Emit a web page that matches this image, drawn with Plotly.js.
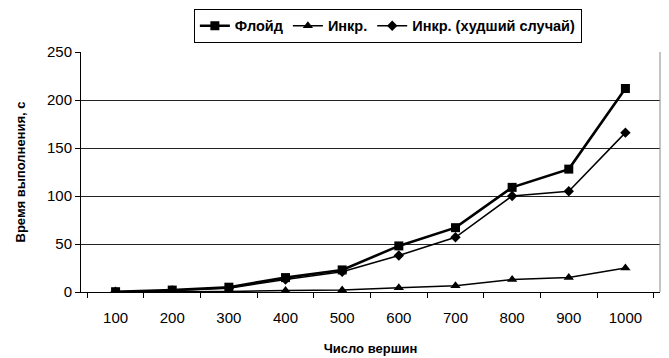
<!DOCTYPE html>
<html>
<head>
<meta charset="utf-8">
<script src="https://cdn.plot.ly/plotly-3.0.1.min.js"></script>
<style>html,body{margin:0;padding:0;background:#fff;}#chart{width:669px;height:358px;}</style>
</head>
<body>
<div id="chart"></div>
<script>
// Число вершин графа
const vertices = ['100', '200', '300', '400', '500', '600', '700', '800', '900', '1000'];
// Время выполнения, с
const floyd = [0.3, 2, 5, 15, 23, 48, 67, 109, 128, 212];
const incr = [0.1, 0.2, 0.5, 1.5, 2, 4.4, 6.5, 13, 15, 25];
const incrWorst = [0.3, 1.5, 4, 13, 21, 38, 57, 100, 105, 166];
const yTicks = [0, 50, 100, 150, 200, 250];

const font = 'Liberation Sans, Arial, sans-serif';

const traces = [
  {x: vertices, y: floyd, name: 'Флойд', mode: 'lines+markers',
   line: {color: '#000', width: 2.6}, marker: {symbol: 'square', size: 9, color: '#000'}},
  {x: vertices, y: incr, name: 'Инкр.', mode: 'lines+markers',
   line: {color: '#000', width: 1.5}, marker: {symbol: 'triangle-up', size: 9, color: '#000'}},
  {x: vertices, y: incrWorst, name: 'Инкр. (худший случай)', mode: 'lines+markers',
   line: {color: '#000', width: 1.5}, marker: {symbol: 'diamond', size: 8, color: '#000'}}
];

const layout = {
  width: 669, height: 358,
  margin: {l: 81, r: 9, t: 47, b: 66},
  paper_bgcolor: '#fff', plot_bgcolor: '#fff',
  font: {family: font, size: 15, color: '#000'},
  showlegend: true,
  legend: {orientation: 'h', x: 0.53, xanchor: 'center', y: 1.18, yanchor: 'top',
    bordercolor: '#000', borderwidth: 1, bgcolor: '#fff',
    font: {family: font, size: 14.5, color: '#000', weight: 'bold'},
    itemwidth: 30, tracegroupgap: 0},
  xaxis: {
    type: 'category', tickson: 'boundaries', ticks: 'outside', ticklen: 5,
    tickcolor: '#000', showline: true, linecolor: '#000', linewidth: 1,
    showgrid: false, zeroline: false, fixedrange: true, ticklabelstandoff: 12,
    tickfont: {family: font, size: 15, color: '#000'},
    title: {text: 'Число вершин', font: {family: font, size: 13, weight: 'bold', color: '#000'}, standoff: 18}
  },
  yaxis: {
    range: [0, 250], tickvals: yTicks, ticks: 'outside', ticklen: 5, tickcolor: '#000',
    showline: true, linecolor: '#000', linewidth: 1,
    showgrid: true, gridcolor: '#222', gridwidth: 1, zeroline: false, fixedrange: true,
    tickfont: {family: font, size: 15, color: '#000'},
    title: {text: 'Время выполнения, с', font: {family: font, size: 13, weight: 'bold', color: '#000'}, standoff: 18}
  },
  shapes: [
    {type: 'line', xref: 'paper', yref: 'paper', x0: 1, x1: 1, y0: 0, y1: 1,
     line: {color: '#888', width: 1}}
  ]
};

Plotly.newPlot('chart', traces, layout, {displayModeBar: false, staticPlot: true});
</script>
</body>
</html>
